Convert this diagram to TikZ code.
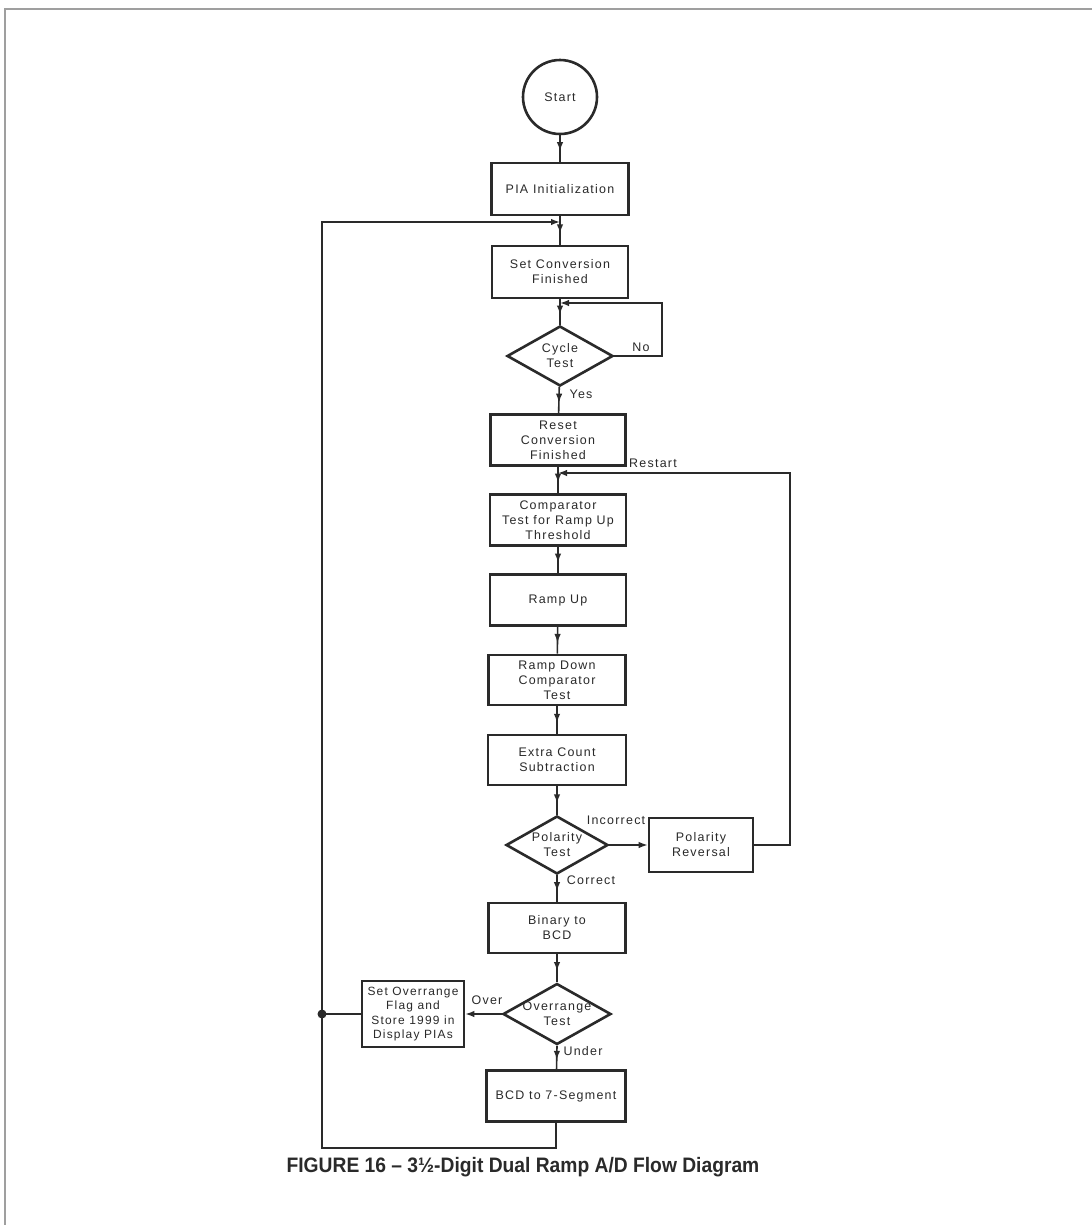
\documentclass[tikz,border=0pt]{standalone}
\usepackage{fontspec}
\setmainfont{Liberation Sans}[LetterSpace=10]
\newfontfamily\capfont{Liberation Sans}[LetterSpace=0]
\usetikzlibrary{shapes.geometric,arrows.meta,decorations.markings}
\definecolor{ink}{HTML}{2A2A2A}
\tikzset{
  boxnode/.style={draw=ink, line width=2.6bp, rectangle, inner sep=0pt, align=center,
    text=ink, font=\fontsize{12.5}{15}\selectfont},
  dianode/.style={draw=ink, line width=2.6bp, diamond, inner sep=0pt, aspect=1.77},
  dtext/.style={align=center, text=ink, font=\fontsize{12.5}{15}\selectfont, inner sep=0pt},
  conn/.style={draw=ink, line width=1.6bp},
  midarrow/.style={postaction={decorate}, decoration={markings,
    mark=at position 0.6 with {\arrow{Latex[length=9bp,width=6.5bp]}}}},
  endarrow/.style={-{Latex[length=9bp,width=6.5bp]}},
  lbl/.style={text=ink, font=\fontsize{12.5}{15}\selectfont, inner sep=0pt}
}
\begin{document}
\begin{tikzpicture}[x=1bp,y=-1bp]
\useasboundingbox (0,0) rectangle (1092,1225);
\fill[white] (0,0) rectangle (1092,1225);
% frame
\draw[gray!75, line width=2bp] (5,1225) -- (5,9) -- (1092,9);

% nodes
\node[circle, draw=ink, line width=2.6bp, minimum size=74bp, inner sep=0pt, text=ink,
  font=\fontsize{12.5}{15}\selectfont] (start) at (560,97) {Start};
\node[boxnode, minimum width=137bp, minimum height=52bp] (pia) at (560,189) {PIA Initialization};
\node[boxnode, minimum width=136bp, minimum height=52bp] (scf) at (560,272) {Set Conversion\\Finished};
\node[dianode, minimum width=106bp, minimum height=60bp,
  label={[dtext]center:Cycle\\Test}] (cyc) at (560,356) {};
\node[boxnode, minimum width=135bp, minimum height=51bp] (rcf) at (558,440) {Reset\\Conversion\\Finished};
\node[boxnode, minimum width=136bp, minimum height=51bp] (cmp) at (558,520) {Comparator\\Test for Ramp Up\\Threshold};
\node[boxnode, minimum width=136bp, minimum height=51bp] (rup) at (558,600) {Ramp Up};
\node[boxnode, minimum width=137bp, minimum height=50bp] (rdn) at (557,680) {Ramp Down\\Comparator\\Test};
\node[boxnode, minimum width=138bp, minimum height=50bp] (ecs) at (557,760) {Extra Count\\Subtraction};
\node[dianode, minimum width=102bp, minimum height=58bp,
  label={[dtext]center:Polarity\\Test}] (pol) at (557,845) {};
\node[boxnode, minimum width=104bp, minimum height=54bp] (prv) at (701,845) {Polarity\\Reversal};
\node[boxnode, minimum width=137bp, minimum height=50bp] (bin) at (557,928) {Binary to\\BCD};
\node[dianode, minimum width=108bp, minimum height=61bp,
  label={[dtext]center:Overrange\\Test}] (ovr) at (557,1014) {};
\node[boxnode, minimum width=102bp, minimum height=66bp, font=\fontsize{12}{14.5}\selectfont] (sof) at (413,1014)
  {Set Overrange\\Flag and\\Store 1999 in\\Display PIAs};
\node[boxnode, minimum width=139bp, minimum height=51bp] (b7s) at (556,1096) {BCD to 7-Segment};

% helper coordinates
\coordinate (j1) at (560,222);
\coordinate (tl) at (322,222);
\coordinate (bl) at (322,1148);
\coordinate (dot) at (322,1014);
\coordinate (j2) at (560,303);
\coordinate (nr) at (662,356);
\coordinate (nt) at (662,303);
\coordinate (j3) at (558,473);
\coordinate (rr) at (790,845);
\coordinate (rt) at (790,473);

% main flow
\draw[conn, midarrow] (start) -- (pia);
\draw[conn, midarrow] (pia) -- (scf);
\draw[conn, midarrow] (scf) -- (cyc);
\draw[conn, midarrow] (cyc) -- (rcf);
\draw[conn, midarrow] (rcf) -- (cmp);
\draw[conn, midarrow] (cmp) -- (rup);
\draw[conn, midarrow] (rup) -- (rdn);
\draw[conn, midarrow] (rdn) -- (ecs);
\draw[conn, midarrow] (ecs) -- (pol.north);
\draw[conn, midarrow] (pol.south) -- (bin);
\draw[conn, midarrow] (bin) -- (ovr.north);
\draw[conn, midarrow] (ovr.south) -- (b7s);

% branches
\draw[conn, endarrow] (cyc.east) -- (nr) -- (nt) -- (j2);
\draw[conn, endarrow] (pol.east) -- (prv.west);
\draw[conn, endarrow] (prv.east) -- (rr) -- (rt) -- (j3);
\draw[conn, endarrow] (ovr.west) -- (sof.east);
\draw[conn] (sof.west) -- (dot);
\draw[conn, endarrow] (b7s.south) |- (bl) -- (tl) -- (j1);
\fill[ink] (dot) circle (4.5bp);

% labels
\node[lbl] (lno) at (641,347) {No};
\node[lbl] (lyes) at (581,394) {Yes};
\node[lbl] (lrst) at (653,463) {Restart};
\node[lbl] (linc) at (616,820) {Incorrect};
\node[lbl] (lcor) at (591,880) {Correct};
\node[lbl] (lover) at (487,1000) {Over};
\node[lbl] (lund) at (583,1051) {Under};

% caption
\node[text=ink, inner sep=0pt] (cap) at (523,1167)
  {\scalebox{0.92}[1]{\capfont\bfseries\fontsize{21}{24}\selectfont FIGURE 16 – 3½-Digit Dual Ramp A/D Flow Diagram}};
\end{tikzpicture}
\end{document}
